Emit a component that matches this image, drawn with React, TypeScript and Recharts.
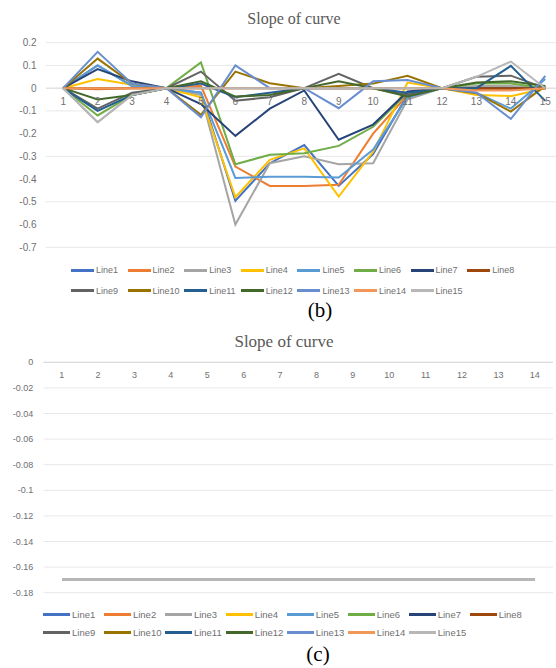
import { LineChart, Line, XAxis, YAxis, CartesianGrid, ReferenceLine, ReferenceDot, Legend } from 'recharts';

// (b) slope of curve, 15 points per line
const categoriesB = [1, 2, 3, 4, 5, 6, 7, 8, 9, 10, 11, 12, 13, 14, 15];
const ticksB = [0.2, 0.1, 0, -0.1, -0.2, -0.3, -0.4, -0.5, -0.6, -0.7];

const line1B = [0, 0.1, 0.01, 0, -0.02, -0.495, -0.33, -0.25, -0.43, -0.29, -0.03, 0, 0, 0, 0];
const line2B = [0, -0.005, 0, 0, 0.01, -0.345, -0.43, -0.43, -0.425, -0.2, -0.03, 0, -0.005, -0.005, 0];
const line3B = [0, -0.15, -0.03, 0, -0.03, -0.6, -0.33, -0.3, -0.335, -0.33, -0.05, 0, 0.01, 0.01, 0];
const line4B = [0, 0.04, 0.015, 0, -0.04, -0.48, -0.315, -0.265, -0.477, -0.28, 0.025, 0, -0.03, -0.035, 0];
const line5B = [0, 0.1, 0.01, 0, -0.02, -0.395, -0.39, -0.39, -0.393, -0.27, -0.04, 0, -0.02, -0.09, 0.04];
const line6B = [0, -0.12, -0.03, 0, 0.113, -0.335, -0.293, -0.286, -0.254, -0.17, -0.02, 0, 0.02, 0.02, 0];
const line7B = [0, 0.084, 0.03, 0, -0.07, -0.21, -0.09, -0.01, -0.227, -0.16, -0.015, 0, 0, 0, 0];
const line8B = [0, 0, 0, 0, 0, 0, 0, 0, 0, 0, 0, 0, 0, 0, 0];
const line9B = [0, -0.09, -0.02, 0, 0.073, -0.055, -0.04, 0, 0.063, 0, -0.03, 0, 0.05, 0.055, 0];
const line10B = [0, 0.13, 0.02, 0, -0.117, 0.073, 0.022, 0, 0.01, 0.02, 0.054, 0, -0.022, -0.103, 0.01];
const line11B = [0, -0.1, -0.03, 0, 0.02, -0.04, -0.02, 0, 0, 0, -0.02, 0, 0, 0.098, -0.056];
const line12B = [0, -0.05, -0.03, 0, 0.03, -0.037, -0.03, 0, 0.03, 0, -0.037, 0, 0.025, 0.03, 0.01];
const line13B = [0, 0.16, 0.02, 0, -0.128, 0.1, 0, 0, -0.088, 0.03, 0.036, 0, -0.02, -0.135, 0.054];
const line14B = [0, 0, 0, 0, 0, 0, 0, 0, 0, 0, 0, 0, -0.01, -0.01, 0];
const line15B = [0, -0.15, -0.03, 0, 0, 0, 0, 0, 0, 0, 0, 0, 0.05, 0.117, 0];

// (c) every line sits on the same flat value
const categoriesC = [1, 2, 3, 4, 5, 6, 7, 8, 9, 10, 11, 12, 13, 14];
const ticksC = [0, -0.02, -0.04, -0.06, -0.08, -0.1, -0.12, -0.14, -0.16, -0.18];
const flatC = [-0.1695, -0.1695, -0.1695, -0.1695, -0.1695, -0.1695, -0.1695, -0.1695, -0.1695, -0.1695, -0.1695, -0.1695, -0.1695, -0.1695];

const seriesNames = ['Line1', 'Line2', 'Line3', 'Line4', 'Line5', 'Line6', 'Line7', 'Line8',
  'Line9', 'Line10', 'Line11', 'Line12', 'Line13', 'Line14', 'Line15'];
const seriesColors = ['#4472C4', '#ED7D31', '#A5A5A5', '#FFC000', '#5B9BD5', '#70AD47', '#264478', '#9E480E',
  '#636363', '#997300', '#255E91', '#43682B', '#698ED0', '#F1975A', '#B7B7B7'];

const seriesB = [line1B, line2B, line3B, line4B, line5B, line6B, line7B, line8B,
  line9B, line10B, line11B, line12B, line13B, line14B, line15B];
const seriesC = seriesNames.map(() => flatC);

const dataB = categoriesB.map((x, i) => {
  const row: Record<string, number> = { x };
  seriesNames.forEach((n, k) => { row[n] = seriesB[k][i]; });
  return row;
});
const dataC = categoriesC.map((x, i) => {
  const row: Record<string, number> = { x };
  seriesNames.forEach((n, k) => { row[n] = seriesC[k][i]; });
  return row;
});

const SANS = '"Liberation Sans", Arial, sans-serif';
const SERIF = '"Liberation Serif", "Times New Roman", serif';
const TICK = '#707070';

function SeriesLegend({ payload, slot, icon, rowH, fontSize }: any) {
  // keep series order, not the alphabetical one
  const items = [...(payload ?? [])].sort(
    (a: any, b: any) => seriesNames.indexOf(a.value) - seriesNames.indexOf(b.value),
  );
  return (
    <div style={{ display: 'flex', flexWrap: 'wrap', width: slot * 8 + 2 }}>
      {items.map((p: any) => (
        <div key={p.value} style={{ width: slot, height: rowH, display: 'flex', alignItems: 'center' }}>
          <span style={{ display: 'inline-block', width: icon, height: 3, background: p.color, marginRight: 2 }} />
          <span style={{ fontSize, color: TICK, fontFamily: SANS, whiteSpace: 'nowrap' }}>{p.value}</span>
        </div>
      ))}
    </div>
  );
}

function Caption({ text, cx, top, size, color }: { text: string; cx: number; top: number; size: number; color: string }) {
  return (
    <div style={{
      position: 'absolute', left: cx - 100, width: 200, top, textAlign: 'center',
      fontFamily: SERIF, fontSize: size, lineHeight: `${size}px`, color,
    }}>
      {text}
    </div>
  );
}

export default function App() {
  return (
    <div style={{ position: 'absolute', left: 0, top: 0, width: 556, height: 668, overflow: 'hidden', background: '#fff', fontFamily: SANS }}>
      <div style={{ position: 'absolute', left: 0, top: 0 }}>
        <LineChart width={570} height={300} data={dataB} margin={{ top: 42.7, right: 7.5, bottom: 52.7, left: 0 }}>
          <CartesianGrid vertical={false} stroke="#e8e8e8" />
          <XAxis dataKey="x" type="category" hide padding={{ left: 17.2, right: 17.2 }} />
          <YAxis
            type="number" domain={[-0.7, 0.2]} ticks={ticksB} width={46}
            axisLine={false} tickLine={false} tickSize={0} tickMargin={9.4}
            tick={{ fill: TICK, fontSize: 10 }} tickFormatter={(v: number) => String(v)}
          />
          <ReferenceLine y={0} stroke="#d4d4d4" />
          {categoriesB.map((c) => (
            <ReferenceDot key={c} x={c} y={0} r={0} fill="none" stroke="none"
              label={{ value: String(c), position: 'bottom', offset: 10, fill: TICK, fontSize: 10 }} />
          ))}
          {seriesNames.map((n, k) => (
            <Line key={n} type="linear" dataKey={n} name={n} stroke={seriesColors[k]} strokeWidth={2}
              dot={false} isAnimationActive={false} />
          ))}
          <Legend
            layout="horizontal" verticalAlign="middle" align="center"
            wrapperStyle={{ left: 71, top: 259.75, width: 460 }}
            content={(props: any) => <SeriesLegend {...props} slot={56.6} icon={23} rowH={20.5} fontSize={9} />}
          />
        </LineChart>
      </div>
      <Caption text="Slope of curve" cx={294} top={11} size={16} color="#595959" />
      <Caption text="(b)" cx={320} top={299.5} size={21} color="#000" />

      <div style={{ position: 'absolute', left: 0, top: 320 }}>
        <LineChart width={560} height={340} data={dataC} margin={{ top: 42.3, right: 7, bottom: 67.3, left: 0 }}>
          <CartesianGrid vertical={false} stroke="#e8e8e8" />
          <XAxis dataKey="x" type="category" hide padding={{ left: 18.2, right: 18.2 }} />
          <YAxis
            type="number" domain={[-0.18, 0]} ticks={ticksC} width={43.5}
            axisLine={false} tickLine={false} tickSize={0} tickMargin={10.2}
            tick={{ fill: TICK, fontSize: 9 }} tickFormatter={(v: number) => String(v)}
          />
          <ReferenceLine y={0} stroke="#d9d9d9" />
          {categoriesC.map((c) => (
            <ReferenceDot key={c} x={c} y={0} r={0} fill="none" stroke="none"
              label={{ value: String(c), position: 'bottom', offset: 9.5, fill: TICK, fontSize: 9 }} />
          ))}
          {/* lines all overlap, crisp edges so the last one covers the rest cleanly */}
          {seriesNames.map((n, k) => (
            <Line key={n} type="linear" dataKey={n} name={n} stroke={seriesColors[k]} strokeWidth={3}
              shapeRendering="crispEdges" dot={false} isAnimationActive={false} />
          ))}
          <Legend
            layout="horizontal" verticalAlign="middle" align="center"
            wrapperStyle={{ left: 43.3, top: 285, width: 500 }}
            content={(props: any) => <SeriesLegend {...props} slot={60.96} icon={26.7} rowH={18} fontSize={9.5} />}
          />
        </LineChart>
      </div>
      <Caption text="Slope of curve" cx={284} top={332.5} size={17} color="#595959" />
      <Caption text="(c)" cx={318} top={643.5} size={21} color="#000" />
    </div>
  );
}
